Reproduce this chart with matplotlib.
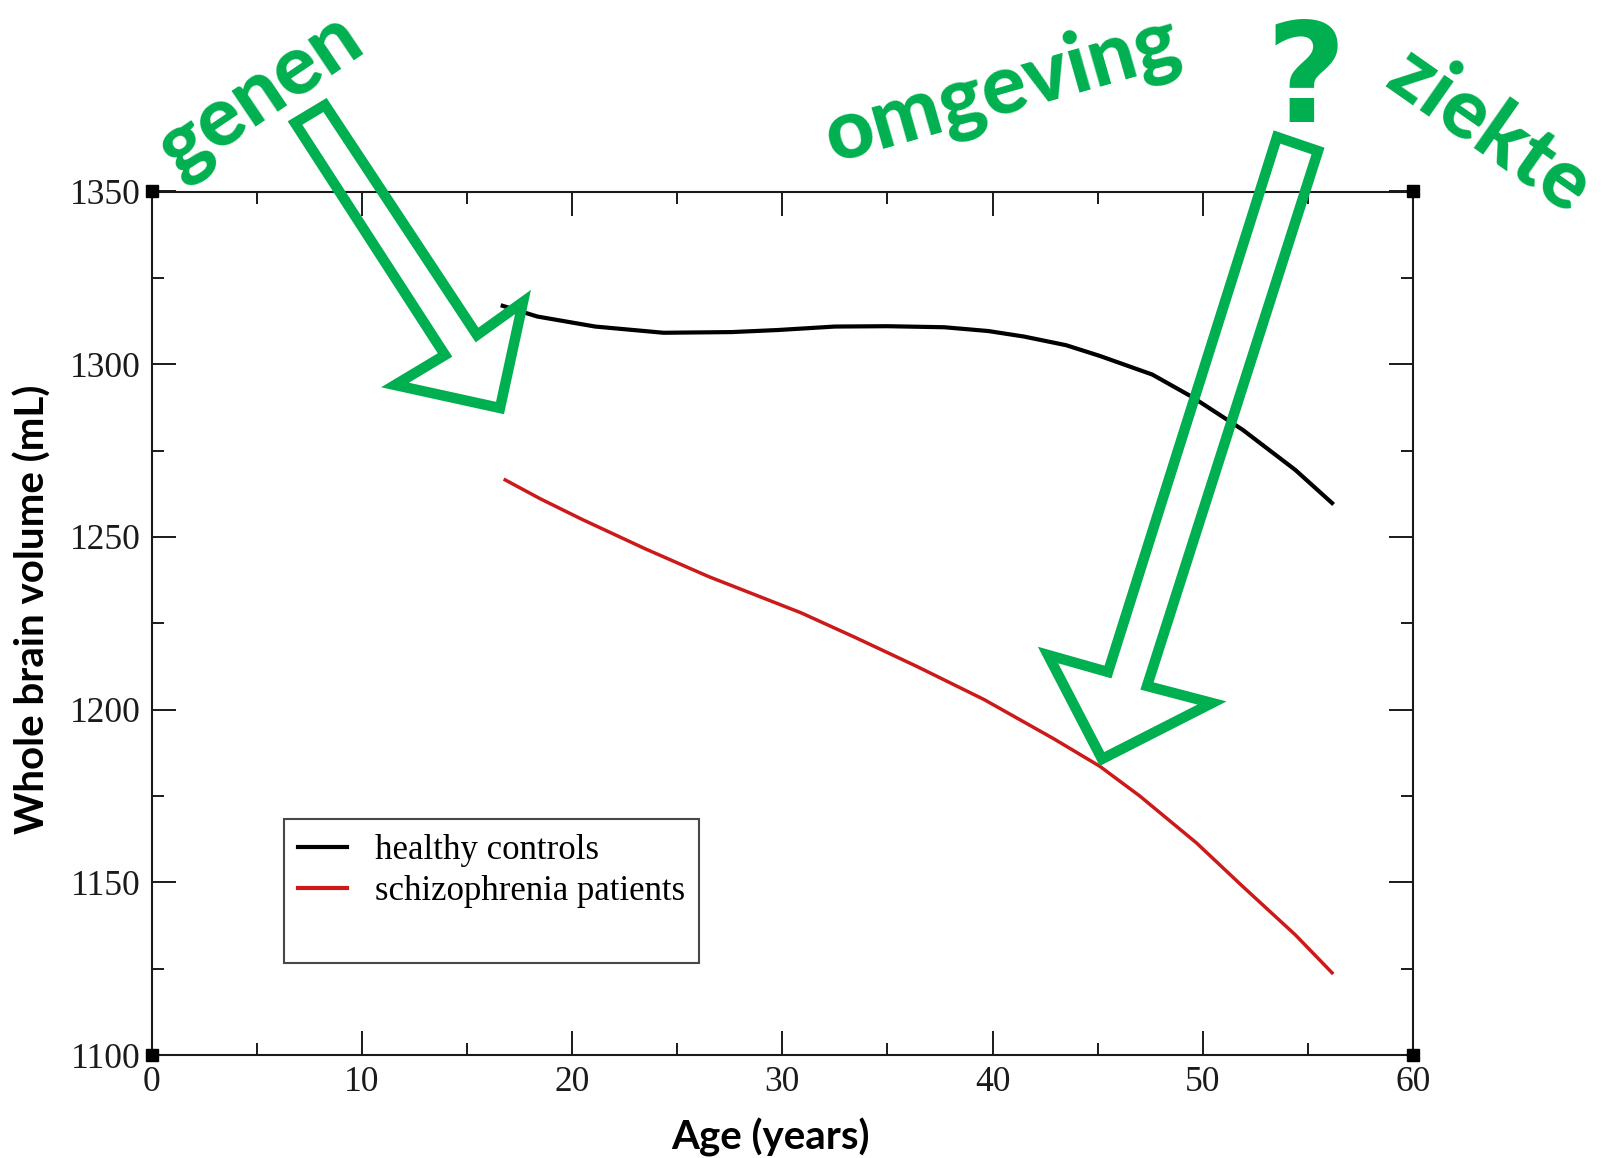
import numpy as np
import matplotlib.pyplot as plt
from matplotlib.patches import Polygon
from matplotlib.ticker import MultipleLocator

# values
age_hc = [16.7, 18.35, 21.1, 24.35, 27.6, 29.8, 32.5, 35.0, 37.7, 39.8, 41.5, 43.5, 45.1, 47.6, 49.5, 51.9, 54.4, 56.15]
vol_hc = [1316.9, 1313.8, 1310.9, 1309.1, 1309.3, 1309.9, 1310.9, 1311.0, 1310.7, 1309.6, 1308.0, 1305.5, 1302.4, 1297.0, 1290.5, 1281.0, 1269.4, 1259.8]
age_sz = [16.82, 18.5, 20.5, 23.5, 26.5, 30.9, 33.5, 36.4, 39.6, 42.9, 45.1, 47.0, 49.7, 51.9, 54.4, 56.15]
vol_sz = [1266.5, 1261.0, 1255.0, 1246.5, 1238.5, 1228.0, 1220.8, 1212.5, 1202.9, 1191.6, 1183.6, 1175.0, 1161.4, 1148.8, 1134.8, 1123.8]

labels = ['healthy controls', 'schizophrenia patients']
words = ['genen', 'omgeving', '?', 'ziekte']

W, H = 1606, 1158
green = '#00B050'

fig = plt.figure(figsize=(W / 100, H / 100), dpi=100)
ax = fig.add_axes([151.6 / W, 1 - 1055 / H, (1413 - 151.6) / W, (1055 - 191.5) / H])

ax.plot(age_hc, vol_hc, color='black', lw=3, label=labels[0], solid_joinstyle='round')
ax.plot(age_sz, vol_sz, color='#cc1a1a', lw=2.5, label=labels[1], solid_joinstyle='round')
ax.plot([], [], color='none', label=' ')

ax.set_xlim(0, 60)
ax.set_ylim(1100, 1350)
ax.xaxis.set_major_locator(MultipleLocator(10))
ax.xaxis.set_minor_locator(MultipleLocator(5))
ax.yaxis.set_major_locator(MultipleLocator(50))
ax.yaxis.set_minor_locator(MultipleLocator(25))
ax.tick_params(which='both', direction='in', top=True, right=True, width=1.4, colors='#1a1a1a')
ax.tick_params(which='major', length=17, pad=8)
ax.tick_params(which='minor', length=8.5)
for s in ax.spines.values():
    s.set_linewidth(1.5)
    s.set_color('#1a1a1a')
for lab in ax.get_xticklabels() + ax.get_yticklabels():
    lab.set_family('Liberation Serif')
    lab.set_fontsize(25.5)
    lab.set_color('#1a1a1a')

# corner squares
for cx in (0, 60):
    for cy in (1100, 1350):
        ax.plot(cx, cy, marker='s', ms=9, color='black', clip_on=False, zorder=5)

ax.set_xlabel('Age (years)', family='Lato', weight='bold', fontsize=29, va='center')
ax.set_ylabel('Whole brain volume (mL)', family='Lato', weight='bold', fontsize=29, va='center')
ax.xaxis.set_label_coords(0.491, -0.095)
ax.yaxis.set_label_coords(-0.094, 0.516)

leg = ax.legend(loc='upper left', bbox_to_anchor=(0.1047, 0.2728), frameon=True, fancybox=False,
                prop={'family': 'Liberation Serif', 'size': 25}, handlelength=1.4,
                handletextpad=0.8, labelspacing=0.22, borderpad=0.42, borderaxespad=0)
leg.get_frame().set_edgecolor('#1a1a1a')
leg.get_frame().set_linewidth(1.5)
for h in leg.get_lines():
    h.set_linewidth(3)

# green annotations (figure pixel positions)
def fp(x, y):
    return (x / W, 1 - y / H)

fig.text(*fp(260, 95), words[0], color=green, family='Lato', weight='black', fontsize=60,
         rotation=34, ha='center', va='center', rotation_mode='anchor')
fig.text(*fp(1002, 90), words[1], color=green, family='Lato', weight='black', fontsize=60,
         rotation=16, ha='center', va='center', rotation_mode='anchor')
fig.text(*fp(1306, 84), words[2], color=green, family='DejaVu Sans', weight='bold', fontsize=100,
         ha='center', va='center')
fig.text(*fp(1490, 130), words[3], color=green, family='Lato', weight='black', fontsize=60,
         rotation=-35, ha='center', va='center', rotation_mode='anchor')

arrow1 = [(295, 123), (325, 105), (477, 335), (523, 302), (500, 408), (395, 385), (445, 355)]
arrow2 = [(1277, 137), (1318, 151), (1147, 686), (1212, 703), (1102, 759), (1048, 655), (1108, 672)]
for pts in (arrow1, arrow2):
    fig.patches.append(Polygon([fp(x, y) for x, y in pts], closed=True, fill=False,
                               edgecolor=green, lw=7.5, joinstyle='miter',
                               transform=fig.transFigure, figure=fig, zorder=10))

fig.savefig('out.png', dpi=100)
